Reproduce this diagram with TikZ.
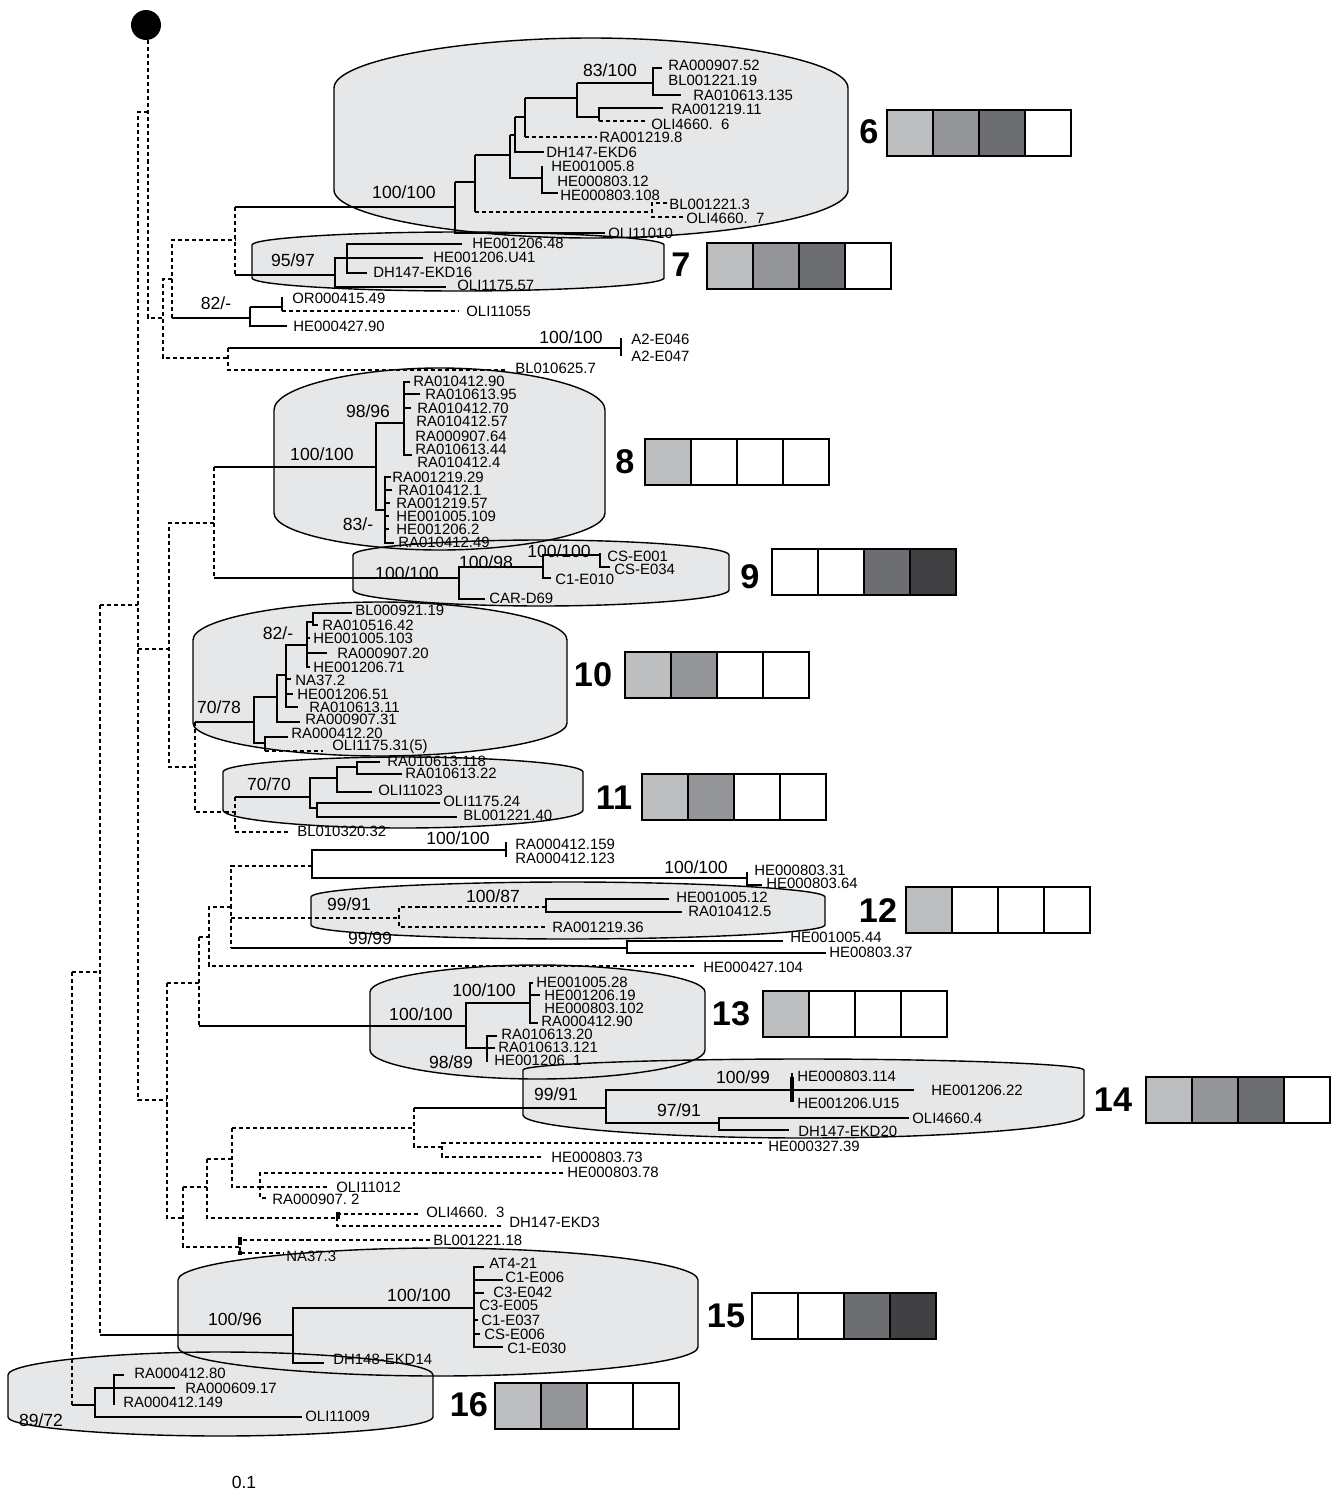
\documentclass[tikz,border=0pt]{standalone}
\usepackage{fontspec}
\setmainfont{Liberation Sans}
\usepackage{tikz}
\usepackage{xcolor}

\definecolor{cladegray}{RGB}{230,231,232}
\definecolor{boxlight}{RGB}{188,190,192}
\definecolor{boxmid}{RGB}{147,149,152}
\definecolor{boxdark}{RGB}{109,110,113}
\definecolor{boxdeep}{RGB}{65,64,66}

\tikzset{
  br/.style={line width=0.65pt},
  dbr/.style={line width=0.65pt, dash pattern=on 2.3pt off 1.7pt},
  taxon/.style={font=\fontsize{8.5}{9}\selectfont, anchor=west, inner sep=0pt},
  support/.style={font=\fontsize{10}{11}\selectfont, inner sep=0pt},
  cladenum/.style={font=\bfseries\fontsize{19.5}{20}\selectfont, inner sep=0pt},
  cladefill/.style={fill=cladegray},
  cladeline/.style={draw=black, line width=0.8pt},
  boxline/.style={draw=black, line width=0.6pt}
}

% x1, x2, top, side top, side bottom, bottom
\newcommand{\cladepath}[7]{%
  \path[#1] (#2,#6) -- (#2,#5)
    .. controls (#2,{#5-0.55*(#5-#4)}) and ({#2+0.25*(#3-#2)},#4) .. ({0.5*(#2+#3)},#4)
    .. controls ({#3-0.25*(#3-#2)},#4) and (#3,{#5-0.55*(#5-#4)}) .. (#3,#5)
    -- (#3,#6)
    .. controls (#3,{#6+0.55*(#7-#6)}) and ({#3-0.25*(#3-#2)},#7) .. ({0.5*(#2+#3)},#7)
    .. controls ({#2+0.25*(#3-#2)},#7) and (#2,{#6+0.55*(#7-#6)}) .. (#2,#6) -- cycle;}

% four habitat squares, top left corner at (#1,#2)
\newcommand{\scorebox}[6]{%
  \filldraw[fill=#3, boxline] (#1,#2) rectangle ++(46,46);
  \filldraw[fill=#4, boxline] ({#1+46},#2) rectangle ++(46,46);
  \filldraw[fill=#5, boxline] ({#1+92},#2) rectangle ++(46,46);
  \filldraw[fill=#6, boxline] ({#1+138},#2) rectangle ++(46,46);}

\begin{document}
\begin{tikzpicture}[x=0.02cm,y=-0.02cm]
\useasboundingbox (0,0) rectangle (1334,1501);

% clade shading
\foreach \sty in {cladefill,cladeline}{
  \cladepath{\sty}{334}{848}{38}{88}{190}{238}
  \cladepath{\sty}{252}{664}{232}{245}{278}{291}
  \cladepath{\sty}{274}{605}{368}{410}{513}{550}
  \cladepath{\sty}{353}{729}{540}{555}{590}{606}
  \cladepath{\sty}{193}{567}{602}{640}{723}{756}
  \cladepath{\sty}{223}{583}{757}{772}{810}{828}
  \cladepath{\sty}{311}{825}{882}{897}{925}{939}
  \cladepath{\sty}{370}{705}{965}{992}{1050}{1079}
  \cladepath{\sty}{523}{1084}{1059}{1070}{1115}{1138}
  \cladepath{\sty}{178}{698}{1248}{1280}{1347}{1376}
  \cladepath{\sty}{8}{433}{1352}{1375}{1417}{1436}
}

% root and backbone
\node[fill, circle, inner sep=0pt, minimum size=0.6cm] (root) at (146,25) {};
\draw[dbr] (148,40) -- (148,318) -- (163,318);
\draw[dbr] (148,112) -- (138,112) -- (138,1100) -- (167,1100);
\draw[dbr] (100,605) -- (138,605);
\draw[dbr] (138,649) -- (169,649);
\draw[dbr] (72,972) -- (100,972);
\draw[dbr] (100,605) -- (100,1335);
\draw[br] (100,1335) -- (293,1335);
\draw[dbr] (72,972) -- (72,1405);
\draw[br] (72,1405) -- (95,1405);

% upper part
\draw[dbr] (172,279) -- (163,279) -- (163,358) -- (228,358);
\draw[dbr] (172,318) -- (172,240) -- (235,240);
\draw[br] (172,318) -- (250,318);
\draw[dbr] (235,207) -- (235,275);
\draw[br] (235,207) -- (455,207);
\draw[br] (235,275) -- (335,275);

% clade 6
\draw[br] (455,182) -- (455,233) -- (605,233);
\draw[br] (455,182) -- (475,182);
\draw[br] (475,155) -- (475,212);
\draw[dbr] (475,212) -- (652,212);
\draw[dbr] (667,203) -- (652,203) -- (652,217) -- (683,217);
\draw[br] (475,155) -- (510,155);
\draw[br] (510,135) -- (510,178) -- (542,178);
\draw[br] (542,166) -- (542,193) -- (558,193);
\draw[br] (510,135) -- (515,135);
\draw[br] (515,117) -- (515,152) -- (544,152);
\draw[br] (515,117) -- (525,117);
\draw[br] (525,98) -- (525,137);
\draw[dbr] (525,137) -- (597,137);
\draw[br] (525,98) -- (577,98);
\draw[br] (577,83) -- (577,117) -- (599,117);
\draw[br] (663,108) -- (599,108) -- (599,121);
\draw[dbr] (599,121) -- (645,121);
\draw[br] (577,83) -- (653,83);
\draw[br] (662,68) -- (653,68) -- (653,95) -- (681,95);

\node[taxon] (t6a) at (668,65) {RA000907.52};
\node[taxon] (t6b) at (668,80) {BL001221.19};
\node[taxon] (t6c) at (693,95) {RA010613.135};
\node[taxon] (t6d) at (671,109) {RA001219.11};
\node[taxon] (t6e) at (651,124) {OLI4660.\ \ 6};
\node[taxon] (t6f) at (599,137) {RA001219.8};
\node[taxon] (t6g) at (546,152) {DH147-EKD6};
\node[taxon] (t6h) at (551,166) {HE001005.8};
\node[taxon] (t6i) at (557,181) {HE000803.12};
\node[taxon] (t6j) at (560,195) {HE000803.108};
\node[taxon] (t6k) at (669,204) {BL001221.3};
\node[taxon] (t6l) at (686,218) {OLI4660.\ \ 7};
\node[taxon] (t6m) at (608,233) {OLI11010};
\node[support] (s6a) at (610,70) {83/100};
\node[support] (s6b) at (404,192) {100/100};

% clade 7
\draw[br] (423,258) -- (335,258) -- (335,287) -- (446,287);
\draw[br] (462,244) -- (347,244) -- (347,273) -- (367,273);
\node[taxon] (t7a) at (472,243) {HE001206.48};
\node[taxon] (t7b) at (433,257) {HE001206.U41};
\node[taxon] (t7c) at (373,272) {DH147-EKD16};
\node[taxon] (t7d) at (457,285) {OLI1175.57};
\node[support] (s7) at (293,260) {95/97};

% 82/- group and A2 pair
\draw[br] (250,307) -- (250,326) -- (287,326);
\draw[br] (250,307) -- (282,307);
\draw[br] (282,297) -- (282,311);
\draw[dbr] (282,311) -- (458,311);
\node[taxon] (tor) at (292,298) {OR000415.49};
\node[taxon] (tol) at (466,311) {OLI11055};
\node[taxon] (the) at (293,326) {HE000427.90};
\node[support] (sor) at (216,303) {82/-};

\draw[dbr] (228,348) -- (228,370) -- (508,370);
\draw[br] (228,348) -- (621,348);
\draw[br] (621,338) -- (621,356);
\node[taxon] (ta1) at (631,339) {A2-E046};
\node[taxon] (ta2) at (631,356) {A2-E047};
\node[taxon] (tbl) at (515,368) {BL010625.7};
\node[support] (sa) at (571,337) {100/100};

% clade 8
\draw[dbr] (214,523) -- (169,523) -- (169,767) -- (195,767);
\draw[dbr] (214,467) -- (214,578);
\draw[br] (214,467) -- (376,467);
\draw[br] (404,423) -- (376,423) -- (376,510) -- (385,510);
\draw[br] (410,382) -- (404,382) -- (404,455) -- (412,455);
\draw[br] (404,394) -- (420,394);
\draw[br] (404,408) -- (411,408);
\draw[br] (391,477) -- (385,477) -- (385,543) -- (394,543);
\draw[br] (385,490) -- (392,490);
\draw[br] (385,503) -- (390,503);
\draw[br] (385,516) -- (389,516);
\draw[br] (385,529) -- (389,529);

\node[taxon] (t8a) at (413,381) {RA010412.90};
\node[taxon] (t8b) at (425,394) {RA010613.95};
\node[taxon] (t8c) at (417,408) {RA010412.70};
\node[taxon] (t8d) at (416,421) {RA010412.57};
\node[taxon] (t8e) at (415,436) {RA000907.64};
\node[taxon] (t8f) at (415,449) {RA010613.44};
\node[taxon] (t8g) at (417,462) {RA010412.4};
\node[taxon] (t8h) at (392,477) {RA001219.29};
\node[taxon] (t8i) at (398,490) {RA010412.1};
\node[taxon] (t8j) at (396,503) {RA001219.57};
\node[taxon] (t8k) at (396,516) {HE001005.109};
\node[taxon] (t8l) at (396,529) {HE001206.2};
\node[taxon] (t8m) at (398,542) {RA010412.49};
\node[support] (s8a) at (368,411) {98/96};
\node[support] (s8b) at (322,454) {100/100};
\node[support] (s8c) at (358,524) {83/-};

% clade 9
\draw[br] (214,578) -- (459,578);
\draw[br] (543,567) -- (459,567) -- (459,599) -- (485,599);
\draw[br] (600,555) -- (543,555) -- (543,578) -- (551,578);
\draw[br] (600,553) -- (600,567) -- (610,567);
\node[taxon] (t9a) at (607,556) {CS-E001};
\node[taxon] (t9b) at (614,569) {CS-E034};
\node[taxon] (t9c) at (555,579) {C1-E010};
\node[taxon] (t9d) at (489,598) {CAR-D69};
\node[support] (s9a) at (559,551) {100/100};
\node[support] (s9b) at (486,562) {100/98};
\node[support] (s9c) at (407,573) {100/100};

% clade 10
\draw[dbr] (195,722) -- (195,812) -- (235,812);
\draw[br] (195,722) -- (254,722);
\draw[br] (277,697) -- (254,697) -- (254,743) -- (265,743);
\draw[br] (286,675) -- (277,675) -- (277,722) -- (300,722);
\draw[br] (307,645) -- (286,645) -- (286,707) -- (298,707);
\draw[br] (286,679) -- (291,679);
\draw[br] (286,694) -- (293,694);
\draw[br] (313,622) -- (307,622) -- (307,667) -- (310,667);
\draw[br] (307,653) -- (327,653);
\draw[br] (307,638) -- (310,638);
\draw[br] (352,613) -- (313,613) -- (313,625) -- (318,625);
\draw[br] (288,737) -- (265,737) -- (265,751);
\draw[dbr] (265,751) -- (323,751);

\node[taxon] (t10a) at (355,610) {BL000921.19};
\node[taxon] (t10b) at (322,625) {RA010516.42};
\node[taxon] (t10c) at (313,638) {HE001005.103};
\node[taxon] (t10d) at (337,653) {RA000907.20};
\node[taxon] (t10e) at (313,667) {HE001206.71};
\node[taxon] (t10f) at (295,680) {NA37.2};
\node[taxon] (t10g) at (297,694) {HE001206.51};
\node[taxon] (t10h) at (309,707) {RA010613.11};
\node[taxon] (t10i) at (305,719) {RA000907.31};
\node[taxon] (t10j) at (291,733) {RA000412.20};
\node[taxon] (t10k) at (332,747) {OLI1175.31(5)};
\node[support] (s10a) at (278,633) {82/-};
\node[support] (s10b) at (219,707) {70/78};

% clade 11
\draw[dbr] (235,797) -- (235,832) -- (290,832);
\draw[br] (235,797) -- (310,797);
\draw[br] (337,778) -- (310,778) -- (310,808) -- (317,808);
\draw[br] (357,767) -- (337,767) -- (337,792) -- (372,792);
\draw[br] (380,762) -- (357,762) -- (357,774) -- (402,774);
\draw[br] (440,803) -- (317,803) -- (317,817) -- (457,817);
\node[taxon] (t11a) at (387,761) {RA010613.118};
\node[taxon] (t11b) at (405,773) {RA010613.22};
\node[taxon] (t11c) at (378,790) {OLI11023};
\node[taxon] (t11d) at (443,801) {OLI1175.24};
\node[taxon] (t11e) at (463,815) {BL001221.40};
\node[taxon] (t11f) at (297,831) {BL010320.32};
\node[support] (s11) at (269,784) {70/70};

% clade 12 and neighbours
\draw[dbr] (167,983) -- (199,983);
\draw[dbr] (199,937) -- (199,1026);
\draw[dbr] (167,983) -- (167,1218) -- (183,1218);
\draw[dbr] (231,907) -- (209,907) -- (209,966) -- (695,966);
\draw[dbr] (199,937) -- (209,937);
\draw[dbr] (312,866) -- (231,866) -- (231,948);
\draw[br] (506,850) -- (312,850) -- (312,878) -- (747,878);
\draw[br] (506,842) -- (506,857);
\draw[br] (747,872) -- (747,885) -- (762,885);
\draw[dbr] (231,918) -- (399,918);
\draw[dbr] (546,907) -- (399,907) -- (399,927) -- (548,927);
\draw[br] (669,899) -- (546,899) -- (546,912) -- (682,912);
\draw[br] (231,948) -- (627,948);
\draw[br] (783,941) -- (627,941) -- (627,953) -- (826,953);

\node[taxon] (t12a) at (515,844) {RA000412.159};
\node[taxon] (t12b) at (515,858) {RA000412.123};
\node[taxon] (t12c) at (754,870) {HE000803.31};
\node[taxon] (t12d) at (766,883) {HE000803.64};
\node[taxon] (t12e) at (676,897) {HE001005.12};
\node[taxon] (t12f) at (688,911) {RA010412.5};
\node[taxon] (t12g) at (552,927) {RA001219.36};
\node[taxon] (t12h) at (790,937) {HE001005.44};
\node[taxon] (t12i) at (829,952) {HE00803.37};
\node[taxon] (t12j) at (703,967) {HE000427.104};
\node[support] (s12a) at (458,838) {100/100};
\node[support] (s12b) at (696,867) {100/100};
\node[support] (s12c) at (349,904) {99/91};
\node[support] (s12d) at (493,896) {100/87};
\node[support] (s12e) at (370,938) {99/99};

% clade 13
\draw[br] (199,1026) -- (466,1026);
\draw[br] (530,1003) -- (466,1003) -- (466,1048) -- (487,1048);
\draw[br] (533,983) -- (530,983) -- (530,1023) -- (538,1023);
\draw[br] (530,995) -- (540,995);
\draw[br] (497,1036) -- (487,1036) -- (487,1062);
\draw[br] (487,1048) -- (495,1048);
\node[taxon] (t13a) at (536,982) {HE001005.28};
\node[taxon] (t13b) at (544,995) {HE001206.19};
\node[taxon] (t13c) at (544,1008) {HE000803.102};
\node[taxon] (t13d) at (541,1021) {RA000412.90};
\node[taxon] (t13e) at (501,1034) {RA010613.20};
\node[taxon] (t13f) at (498,1047) {RA010613.121};
\node[taxon] (t13g) at (494,1060) {HE001206.\ 1};
\node[support] (s13a) at (484,990) {100/100};
\node[support] (s13b) at (421,1014) {100/100};
\node[support] (s13c) at (451,1062) {98/89};

% clade 14
\draw[dbr] (232,1128) -- (414,1128);
\draw[dbr] (414,1108) -- (414,1147) -- (442,1147);
\draw[dbr] (762,1143) -- (442,1143) -- (442,1157) -- (541,1157);
\draw[br] (414,1108) -- (606,1108);
\draw[br] (914,1090) -- (606,1090) -- (606,1123) -- (719,1123);
\draw[br] (792,1073) -- (792,1102);
\draw[line width=2.3pt] (792,1077) -- (792,1102);
\draw[br] (909,1118) -- (719,1118) -- (719,1130) -- (789,1130);
\node[taxon] (t14a) at (797,1076) {HE000803.114};
\node[taxon] (t14b) at (931,1090) {HE001206.22};
\node[taxon] (t14c) at (797,1103) {HE001206.U15};
\node[taxon] (t14d) at (912,1118) {OLI4660.4};
\node[taxon] (t14e) at (798,1131) {DH147-EKD20};
\node[taxon] (t14f) at (768,1146) {HE000327.39};
\node[taxon] (t14g) at (551,1157) {HE000803.73};
\node[support] (s14a) at (743,1077) {100/99};
\node[support] (s14b) at (556,1094) {99/91};
\node[support] (s14c) at (679,1110) {97/91};

% unresolved dashed lineages
\draw[dbr] (207,1159) -- (232,1159);
\draw[dbr] (232,1128) -- (232,1187) -- (260,1187);
\draw[dbr] (563,1173) -- (260,1173) -- (260,1198) -- (267,1198);
\draw[dbr] (260,1187) -- (330,1187);
\draw[dbr] (183,1187) -- (207,1187);
\draw[dbr] (207,1159) -- (207,1218) -- (337,1218);
\draw[dbr] (418,1214) -- (337,1214) -- (337,1226) -- (503,1226);
\draw[line width=2.5pt] (338,1212) -- (338,1219);
\draw[dbr] (183,1187) -- (183,1247) -- (240,1247);
\draw[dbr] (430,1240) -- (240,1240) -- (240,1253) -- (283,1253);
\draw[line width=2.5pt] (240,1237) -- (240,1245);
\draw[line width=2.5pt] (240,1251) -- (240,1255);
\node[taxon] (tu1) at (567,1172) {HE000803.78};
\node[taxon] (tu2) at (336,1187) {OLI11012};
\node[taxon] (tu3) at (272,1199) {RA000907.\ 2};
\node[taxon] (tu4) at (426,1212) {OLI4660.\ \ 3};
\node[taxon] (tu5) at (509,1222) {DH147-EKD3};
\node[taxon] (tu6) at (433,1240) {BL001221.18};
\node[taxon] (tu7) at (286,1256) {NA37.3};

% clade 15
\draw[br] (474,1308) -- (293,1308) -- (293,1363) -- (324,1363);
\draw[br] (484,1267) -- (474,1267) -- (474,1347) -- (503,1347);
\draw[br] (474,1280) -- (503,1280);
\draw[br] (474,1293) -- (484,1293);
\draw[br] (474,1320) -- (478,1320);
\draw[br] (474,1334) -- (480,1334);
\node[taxon] (t15a) at (489,1263) {AT4-21};
\node[taxon] (t15b) at (505,1277) {C1-E006};
\node[taxon] (t15c) at (493,1292) {C3-E042};
\node[taxon] (t15d) at (479,1305) {C3-E005};
\node[taxon] (t15e) at (481,1320) {C1-E037};
\node[taxon] (t15f) at (484,1334) {CS-E006};
\node[taxon] (t15g) at (507,1348) {C1-E030};
\node[taxon] (t15h) at (333,1359) {DH148-EKD14};
\node[support] (s15a) at (419,1295) {100/100};
\node[support] (s15b) at (235,1319) {100/96};

% clade 16
\draw[br] (114,1388) -- (95,1388) -- (95,1417) -- (302,1417);
\draw[br] (124,1375) -- (114,1375) -- (114,1405);
\draw[br] (114,1388) -- (175,1388);
\node[taxon] (t16a) at (134,1373) {RA000412.80};
\node[taxon] (t16b) at (185,1388) {RA000609.17};
\node[taxon] (t16c) at (123,1402) {RA000412.149};
\node[taxon] (t16d) at (305,1416) {OLI11009};
\node[support] (s16) at (41,1420) {89/72};

% clade numbers and squares
\node[cladenum] (n6) at (869,132) {6};
\scorebox{887}{110}{boxlight}{boxmid}{boxdark}{white}
\node[cladenum] (n7) at (681,265) {7};
\scorebox{707}{243}{boxlight}{boxmid}{boxdark}{white}
\node[cladenum] (n8) at (625,462) {8};
\scorebox{645}{439}{boxlight}{white}{white}{white}
\node[cladenum] (n9) at (750,577) {9};
\scorebox{772}{549}{white}{white}{boxdark}{boxdeep}
\node[cladenum] (n10) at (593,675) {10};
\scorebox{625}{652}{boxlight}{boxmid}{white}{white}
\node[cladenum] (n11) at (614,798) {11};
\scorebox{642}{774}{boxlight}{boxmid}{white}{white}
\node[cladenum] (n12) at (878,911) {12};
\scorebox{906}{887}{boxlight}{white}{white}{white}
\node[cladenum] (n13) at (731,1014) {13};
\scorebox{763}{991}{boxlight}{white}{white}{white}
\node[cladenum] (n14) at (1113,1100) {14};
\scorebox{1146}{1077}{boxlight}{boxmid}{boxdark}{white}
\node[cladenum] (n15) at (726,1316) {15};
\scorebox{752}{1293}{white}{white}{boxdark}{boxdeep}
\node[cladenum] (n16) at (469,1405) {16};
\scorebox{495}{1383}{boxlight}{boxmid}{white}{white}

\node[support] (scale) at (244,1482) {0.1};
\end{tikzpicture}
\end{document}
